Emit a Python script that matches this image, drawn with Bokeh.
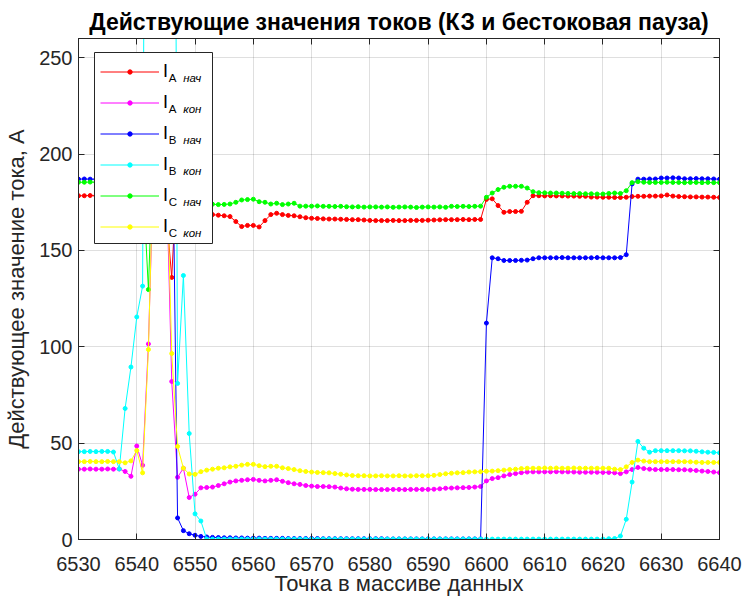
from bokeh.plotting import figure
from bokeh.models import (LinearAxis, FixedTicker, Legend, LegendItem, Label,
                          BoxAnnotation)
from bokeh.embed import file_html
from bokeh.resources import INLINE

# ---------------- data ----------------
points = list(range(6530, 6641))

ia_nach = [
    178.4, 178.4, 178.5, 178.4, 178.4, 178.5, 178.4, 178.3, 178.4, 178.5,
    178.4, 181.0, 215.0, 228.0, 232.0, 172.0, 136.0, 196.0, 172.0, 171.0,
    170.2, 169.6, 169.0, 168.6, 168.3, 168.0, 167.6, 165.0, 162.4, 163.0,
    163.0, 162.2, 165.5, 168.6, 169.3, 168.6, 168.2, 168.0, 167.5, 167.0,
    166.7, 166.6, 166.4, 166.3, 166.3, 166.2, 166.1, 166.0, 166.0, 165.8,
    165.6, 165.5, 165.5, 165.5, 165.6, 165.5, 165.5, 165.6, 165.6, 165.6,
    165.7, 165.8, 165.9, 166.0, 166.0, 166.0, 166.1, 166.0, 166.1, 166.1,
    176.5, 176.8, 173.3, 169.8, 170.2, 170.2, 170.3, 175.0, 178.4, 178.4,
    178.3, 178.4, 178.3, 178.3, 178.2, 178.2, 178.1, 178.1, 177.7, 177.7,
    177.6, 177.6, 177.5, 177.5, 177.6, 178.0, 178.1, 178.1, 178.2, 178.2,
    178.3, 178.8, 178.2, 178.0, 177.9, 177.8, 177.8, 177.7, 177.7, 177.6,
    177.5,
]
ia_kon = [
    36.5, 36.5, 36.6, 36.5, 36.5, 36.6, 36.5, 36.6, 35.3, 32.8,
    48.5, 38.5, 101.5, 205.0, 212.0, 200.0, 82.0, 32.3, 37.0, 21.8,
    23.5, 26.8, 27.0, 27.2, 28.0, 28.9, 29.8, 30.4, 30.7, 31.0,
    31.2, 30.7, 30.4, 30.7, 31.0, 30.2, 29.5, 28.9, 28.6, 28.0,
    27.7, 27.5, 27.5, 27.4, 27.2, 26.7, 26.3, 26.1, 26.0, 26.0,
    26.0, 25.9, 25.9, 25.9, 26.0, 26.0, 25.9, 26.0, 26.0, 26.0,
    26.0, 26.1, 26.3, 26.6, 26.7, 26.8, 26.9, 27.0, 27.2, 27.5,
    30.4, 31.6, 32.1, 33.0, 33.7, 34.2, 34.7, 35.0, 35.1, 35.1,
    35.1, 35.1, 35.2, 35.1, 35.1, 35.0, 34.9, 34.9, 34.9, 34.9,
    34.8, 34.8, 34.6, 34.2, 35.1, 36.3, 37.4, 36.8, 36.5, 36.3,
    36.3, 36.3, 36.3, 36.2, 36.2, 36.0, 35.8, 35.5, 35.3, 35.0,
    34.7,
]
ib_nach = [
    187.0, 187.1, 187.0, 187.0, 187.1, 187.0, 187.0, 187.1, 187.0, 187.0,
    187.1, 192.0, 235.0, 240.0, 240.0, 242.0, 245.0, 11.2, 4.6, 3.0,
    2.2, 1.6, 1.3, 1.1, 1.0, 0.9, 0.9, 0.8, 0.8, 0.7,
    0.7, 0.7, 0.6, 0.6, 0.6, 0.6, 0.5, 0.5, 0.5, 0.5,
    0.5, 0.5, 0.4, 0.4, 0.4, 0.4, 0.4, 0.4, 0.4, 0.4,
    0.4, 0.4, 0.4, 0.3, 0.3, 0.3, 0.3, 0.3, 0.3, 0.3,
    0.3, 0.3, 0.3, 0.3, 0.3, 0.3, 0.3, 0.3, 0.3, 0.3,
    112.3, 146.2, 145.7, 144.8, 144.8, 144.8, 144.9, 145.0, 145.7, 146.2,
    146.2, 146.2, 146.2, 146.3, 146.2, 146.2, 146.2, 146.2, 146.2, 146.3,
    146.2, 146.2, 146.2, 146.3, 147.8, 184.5, 187.0, 187.0, 187.1, 187.1,
    187.6, 187.6, 187.7, 187.6, 187.2, 187.2, 187.3, 187.2, 187.2, 187.1,
    187.0,
]
ib_kon = [
    45.6, 45.6, 45.7, 45.6, 45.7, 45.7, 45.4, 36.6, 68.0, 89.5,
    115.5, 131.5, 800.0, 1000.0, 1000.0, 1000.0, 800.0, 81.0, 137.0, 55.0,
    13.3, 9.6, 0.3, 0.2, 0.2, 0.2, 0.2, 0.2, 0.2, 0.2,
    0.2, 0.2, 0.2, 0.2, 0.2, 0.2, 0.2, 0.2, 0.2, 0.2,
    0.2, 0.2, 0.2, 0.2, 0.2, 0.2, 0.2, 0.2, 0.2, 0.2,
    0.2, 0.2, 0.2, 0.2, 0.2, 0.2, 0.2, 0.2, 0.2, 0.2,
    0.2, 0.2, 0.2, 0.2, 0.2, 0.2, 0.2, 0.2, 0.2, 0.2,
    0.2, 0.2, 0.2, 0.2, 0.2, 0.2, 0.2, 0.2, 0.2, 0.2,
    0.2, 0.2, 0.2, 0.2, 0.2, 0.2, 0.2, 0.2, 0.2, 0.2,
    0.2, 0.4, 0.5, 1.8, 10.5, 29.8, 50.9, 47.4, 45.3, 46.1,
    46.1, 46.1, 46.1, 46.1, 46.0, 46.0, 45.8, 45.5, 45.3, 45.2,
    45.0,
]
ic_nach = [
    185.4, 185.4, 185.5, 185.4, 185.4, 185.5, 185.4, 185.4, 185.5, 185.4,
    185.6, 190.0, 129.7, 222.0, 226.0, 224.0, 216.0, 186.0, 181.0, 178.0,
    176.0, 175.0, 174.5, 174.0, 173.8, 173.9, 174.1, 175.0, 176.2, 176.4,
    176.6, 175.3, 175.0, 174.1, 174.5, 173.8, 174.1, 174.5, 173.0, 173.0,
    173.0, 173.1, 172.9, 172.9, 172.8, 172.9, 172.7, 172.6, 172.7, 172.5,
    172.6, 172.6, 172.5, 172.6, 172.4, 172.5, 172.6, 172.5, 172.3, 172.5,
    172.6, 172.5, 172.6, 172.4, 172.9, 172.8, 172.9, 172.8, 172.9, 173.0,
    177.6, 179.8, 181.6, 182.8, 183.3, 183.3, 183.3, 182.4, 180.5, 180.0,
    179.9, 179.8, 179.8, 179.7, 179.6, 179.5, 179.5, 179.4, 179.4, 179.3,
    179.3, 179.6, 179.8, 179.6, 181.0, 185.2, 185.7, 185.4, 185.3, 185.3,
    185.3, 185.4, 185.3, 185.3, 185.2, 185.3, 185.3, 185.2, 185.3, 185.2,
    185.2,
]
ic_kon = [
    40.4, 40.4, 40.5, 40.4, 40.4, 40.5, 40.4, 40.4, 39.8, 40.8,
    46.2, 34.6, 98.6, 215.0, 222.0, 210.0, 96.5, 48.3, 37.0, 34.0,
    33.8, 35.2, 36.0, 36.5, 37.0, 37.2, 37.7, 38.0, 38.6, 39.0,
    39.0, 38.3, 37.8, 38.0, 38.0, 37.2, 36.8, 36.3, 35.7, 35.3,
    35.0, 34.8, 34.7, 34.6, 34.2, 33.9, 33.5, 33.2, 33.1, 33.1,
    33.0, 33.0, 33.1, 33.0, 33.0, 33.1, 33.0, 33.0, 33.1, 33.1,
    33.1, 33.3, 33.7, 34.1, 34.4, 34.6, 34.7, 35.0, 35.1, 35.2,
    35.4, 35.5, 35.7, 36.0, 36.3, 36.5, 36.8, 37.0, 37.0, 37.0,
    37.1, 37.0, 37.1, 37.0, 37.0, 37.1, 37.0, 37.0, 37.0, 37.0,
    37.0, 37.0, 36.5, 36.3, 37.7, 40.0, 41.2, 40.7, 40.4, 40.4,
    40.4, 40.4, 40.4, 40.4, 40.4, 40.3, 40.1, 40.0, 40.0, 40.0,
    40.0,
]

series_values = [ia_nach, ia_kon, ib_nach, ib_kon, ic_nach, ic_kon]
series_colors = ["#ff0000", "#ff00ff", "#0000ff", "#00ffff", "#00ff00", "#ffff00"]
legend_phase = ["A", "A", "B", "B", "C", "C"]
legend_side = ["нач", "кон", "нач", "кон", "нач", "кон"]

x_ticks = [6530, 6540, 6550, 6560, 6570, 6580, 6590, 6600, 6610, 6620, 6630, 6640]
y_ticks = [0, 50, 100, 150, 200, 250]

title_text = "Действующие значения токов (КЗ и бестоковая пауза)"
x_label = "Точка в массиве данных"
y_label = "Действующее значение тока, А"

# ---------------- figure ----------------
FONT = "Liberation Sans"
AX = "#262626"
FRAME_H = 502

p = figure(width=744, height=598, x_range=(6530, 6640), y_range=(0, 260),
           output_backend="svg", toolbar_location=None,
           min_border_left=78, min_border_right=25,
           min_border_top=38, min_border_bottom=58)
p.background_fill_color = "white"
p.border_fill_color = "white"
p.outline_line_color = AX
p.outline_line_width = 1

p.title.text = title_text
p.title.align = "center"
p.title.text_font = FONT
p.title.text_font_size = "23px"
p.title.text_font_style = "bold"
p.title.text_color = "#000000"
p.title.standoff = 8

for ax in (p.xaxis[0], p.yaxis[0]):
    ax.axis_line_color = AX
    ax.major_tick_line_color = AX
    ax.major_tick_in = 6
    ax.major_tick_out = 0
    ax.minor_tick_line_color = None
    ax.major_label_text_font = FONT
    ax.major_label_text_font_size = "20px"
    ax.major_label_text_color = AX
    ax.axis_label_text_font = FONT
    ax.axis_label_text_font_size = "22px"
    ax.axis_label_text_font_style = "normal"
    ax.axis_label_text_color = AX

p.xaxis[0].ticker = FixedTicker(ticks=x_ticks)
p.yaxis[0].ticker = FixedTicker(ticks=y_ticks)
p.xaxis[0].axis_label = x_label
p.yaxis[0].axis_label = y_label
p.xaxis[0].major_label_standoff = 17
p.xaxis[0].axis_label_standoff = -3
p.yaxis[0].major_label_standoff = 6
p.yaxis[0].axis_label_standoff = 7

# box ticks on top and right
top_ax = LinearAxis(ticker=FixedTicker(ticks=x_ticks),
                    major_label_overrides={t: "" for t in x_ticks})
right_ax = LinearAxis(ticker=FixedTicker(ticks=y_ticks),
                      major_label_overrides={t: "" for t in y_ticks})
for ax in (top_ax, right_ax):
    ax.axis_line_color = AX
    ax.major_tick_line_color = AX
    ax.major_tick_in = 6
    ax.major_tick_out = 0
    ax.minor_tick_line_color = None
    ax.major_label_standoff = 0
    ax.major_label_text_font_size = "1px"
p.add_layout(top_ax, "above")
p.add_layout(right_ax, "right")

p.xgrid.ticker = FixedTicker(ticks=x_ticks)
p.ygrid.ticker = FixedTicker(ticks=y_ticks)
for g in (p.xgrid[0], p.ygrid[0]):
    g.grid_line_color = AX
    g.grid_line_alpha = 0.15

items = []
for vals, col in zip(series_values, series_colors):
    lr = p.line(points, vals, line_color=col, line_width=1)
    sr = p.scatter(points, vals, size=4, fill_color=col, line_color=col)
    items.append(LegendItem(label="I", renderers=[lr, sr]))

# legend box (white, opaque) drawn in screen units relative to the frame
legend_box = BoxAnnotation(left=16, right=134, bottom=296, top=FRAME_H - 15,
                           left_units="screen", right_units="screen",
                           top_units="screen", bottom_units="screen",
                           fill_color="white", fill_alpha=1.0,
                           line_color=AX, line_width=1, line_alpha=1.0)
p.add_layout(legend_box)

legend = Legend(items=items, location=(22, 301.5), orientation="vertical",
                padding=0, spacing=9, label_height=22, glyph_height=11,
                glyph_width=59, label_standoff=4, label_width=20,
                label_text_font=FONT, label_text_font_size="18px",
                label_text_baseline="alphabetic",
                label_text_color="#000000",
                border_line_color=None,
                background_fill_alpha=0.0,
                margin=0)
p.add_layout(legend, "center")

for i, (ph, side) in enumerate(zip(legend_phase, legend_side)):
    base = FRAME_H - 40.3 - 31 * i
    p.add_layout(Label(x=90.3, y=base, x_units="screen", y_units="screen",
                       text=ph, text_font=FONT, text_font_size="11.5px",
                       text_baseline="alphabetic", text_color="#000000",
                       level="overlay"))
    p.add_layout(Label(x=104.7, y=base, x_units="screen", y_units="screen",
                       text=side, text_font=FONT, text_font_size="11.5px",
                       text_font_style="italic",
                       text_baseline="alphabetic", text_color="#000000",
                       level="overlay"))

open("out.html", "w").write(file_html(p, INLINE))
